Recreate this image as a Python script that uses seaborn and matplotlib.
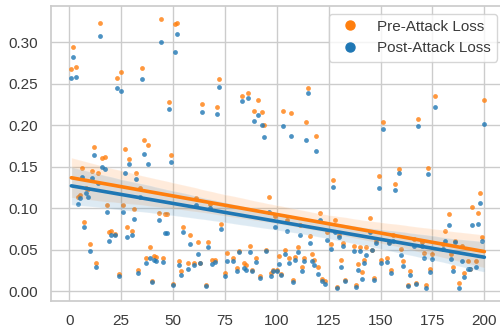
import matplotlib
matplotlib.use("Agg")
import matplotlib.pyplot as plt
import seaborn as sns
import pandas as pd
from matplotlib.lines import Line2D

# sample index
step = [1, 2, 3, 4, 5, 6, 7, 8, 9, 10, 11, 12, 13, 14, 15, 16, 17, 18, 19, 20,
        22, 23, 24, 25, 26, 27, 28, 29, 30, 31, 32, 33, 34, 35, 36, 37, 38, 39, 40, 41,
        42, 43, 44, 45, 46, 47, 48, 49, 50, 51, 52, 53, 54, 55, 57, 58, 60, 61, 62, 63,
        64, 66, 67, 68, 69, 70, 71, 72, 73, 75, 76, 79, 81, 82, 83, 84, 85, 86, 87, 88,
        89, 90, 91, 92, 93, 94, 95, 96, 97, 98, 99, 100, 101, 102, 103, 104, 105, 106, 107, 108,
        109, 110, 111, 112, 113, 114, 115, 116, 117, 118, 119, 120, 121, 122, 123, 124, 126, 127, 128, 129,
        130, 131, 132, 133, 137, 138, 139, 140, 141, 142, 143, 145, 146, 147, 148, 149, 150, 151, 153, 154,
        155, 156, 157, 159, 160, 161, 163, 164, 166, 167, 168, 170, 171, 172, 173, 174, 175, 176, 180, 181,
        183, 184, 185, 186, 188, 189, 190, 192, 193, 194, 196, 197, 198, 199, 200]

pre_loss = [0.268, 0.295, 0.270, 0.114, 0.116, 0.149, 0.083, 0.124, 0.123, 0.057, 0.145, 0.174, 0.034, 0.143, 0.324, 0.161, 0.162, 0.104, 0.072, 0.073,
            0.069, 0.257, 0.021, 0.264, 0.104, 0.171, 0.077, 0.160, 0.073, 0.099, 0.143, 0.026, 0.125, 0.269, 0.182, 0.040, 0.176, 0.053, 0.012, 0.043,
            0.042, 0.094, 0.328, 0.040, 0.093, 0.093, 0.228, 0.164, 0.009, 0.322, 0.324, 0.036, 0.024, 0.078, 0.034, 0.068, 0.034, 0.112, 0.060, 0.034,
            0.226, 0.008, 0.060, 0.105, 0.038, 0.038, 0.222, 0.256, 0.081, 0.022, 0.046, 0.040, 0.028, 0.049, 0.236, 0.034, 0.032, 0.239, 0.055, 0.026,
            0.218, 0.040, 0.231, 0.018, 0.216, 0.200, 0.050, 0.114, 0.022, 0.026, 0.091, 0.026, 0.043, 0.021, 0.218, 0.050, 0.086, 0.040, 0.215, 0.014,
            0.041, 0.054, 0.080, 0.029, 0.040, 0.204, 0.245, 0.067, 0.045, 0.038, 0.187, 0.029, 0.094, 0.015, 0.012, 0.072, 0.057, 0.134, 0.086, 0.005,
            0.068, 0.038, 0.058, 0.014, 0.055, 0.008, 0.033, 0.053, 0.023, 0.038, 0.053, 0.088, 0.050, 0.016, 0.061, 0.139, 0.038, 0.204, 0.040, 0.060,
            0.026, 0.068, 0.129, 0.148, 0.051, 0.036, 0.008, 0.024, 0.063, 0.010, 0.208, 0.059, 0.046, 0.008, 0.149, 0.027, 0.045, 0.236, 0.057, 0.073,
            0.093, 0.045, 0.029, 0.061, 0.010, 0.055, 0.022, 0.036, 0.027, 0.102, 0.036, 0.094, 0.119, 0.065, 0.231]

post_loss = [0.257, 0.283, 0.259, 0.105, 0.112, 0.138, 0.078, 0.118, 0.114, 0.049, 0.137, 0.164, 0.029, 0.131, 0.308, 0.150, 0.148, 0.096, 0.061, 0.068,
             0.068, 0.245, 0.018, 0.242, 0.096, 0.143, 0.065, 0.153, 0.068, 0.087, 0.136, 0.022, 0.114, 0.256, 0.166, 0.034, 0.153, 0.040, 0.011, 0.038,
             0.037, 0.086, 0.300, 0.035, 0.070, 0.070, 0.220, 0.156, 0.008, 0.289, 0.310, 0.032, 0.020, 0.071, 0.027, 0.057, 0.032, 0.104, 0.045, 0.034,
             0.216, 0.007, 0.053, 0.100, 0.033, 0.035, 0.214, 0.246, 0.075, 0.019, 0.036, 0.036, 0.024, 0.048, 0.229, 0.028, 0.026, 0.233, 0.048, 0.024,
             0.205, 0.035, 0.212, 0.016, 0.200, 0.186, 0.049, 0.096, 0.018, 0.024, 0.078, 0.024, 0.033, 0.020, 0.199, 0.045, 0.073, 0.034, 0.187, 0.011,
             0.038, 0.048, 0.068, 0.024, 0.036, 0.182, 0.239, 0.058, 0.036, 0.032, 0.169, 0.021, 0.086, 0.013, 0.009, 0.062, 0.051, 0.126, 0.072, 0.004,
             0.065, 0.029, 0.055, 0.012, 0.049, 0.005, 0.026, 0.049, 0.015, 0.034, 0.044, 0.072, 0.050, 0.014, 0.058, 0.124, 0.034, 0.196, 0.035, 0.058,
             0.022, 0.061, 0.122, 0.143, 0.044, 0.030, 0.007, 0.020, 0.055, 0.009, 0.199, 0.055, 0.040, 0.004, 0.141, 0.023, 0.039, 0.222, 0.051, 0.061,
             0.080, 0.039, 0.025, 0.059, 0.004, 0.037, 0.017, 0.027, 0.027, 0.080, 0.029, 0.081, 0.106, 0.061, 0.202]

orange = "#ff7f0e"
blue = "#1f77b4"

sns.set_theme(style="whitegrid")
plt.rcParams["font.family"] = ["Liberation Sans", "DejaVu Sans"]

df = pd.DataFrame({"step": step, "pre": pre_loss, "post": post_loss})

fig = plt.figure(figsize=(5, 3.28), dpi=100)
# axes run slightly past the right edge, as in the cropped original
ax = fig.add_axes([0.1014, 0.0832, 0.9086, 0.8985])

sns.regplot(data=df, x="step", y="pre", ax=ax, color=orange, seed=0,
            scatter_kws={"s": 12, "linewidths": 0}, line_kws={"linewidth": 2.6})
sns.regplot(data=df, x="step", y="post", ax=ax, color=blue, seed=0,
            scatter_kws={"s": 12, "linewidths": 0}, line_kws={"linewidth": 2.6})

ax.set_xlim(-8.95, 209.95)
ax.set_ylim(-0.0113, 0.344)
ax.set_xticks([0, 25, 50, 75, 100, 125, 150, 175, 200])
ax.set_yticks([0.0, 0.05, 0.10, 0.15, 0.20, 0.25, 0.30])
ax.set_xlabel("")
ax.set_ylabel("")
ax.tick_params(labelsize=11, colors="#3a3a3a")

handles = [Line2D([], [], marker="o", linestyle="", color=orange, markersize=6.5),
           Line2D([], [], marker="o", linestyle="", color=blue, markersize=6.5)]
leg = ax.legend(handles, ["Pre-Attack Loss", "Post-Attack Loss"], loc="upper right",
                fontsize=11, frameon=True)
for t in leg.get_texts():
    t.set_color("#3a3a3a")

fig.savefig("out.png", dpi=100)
